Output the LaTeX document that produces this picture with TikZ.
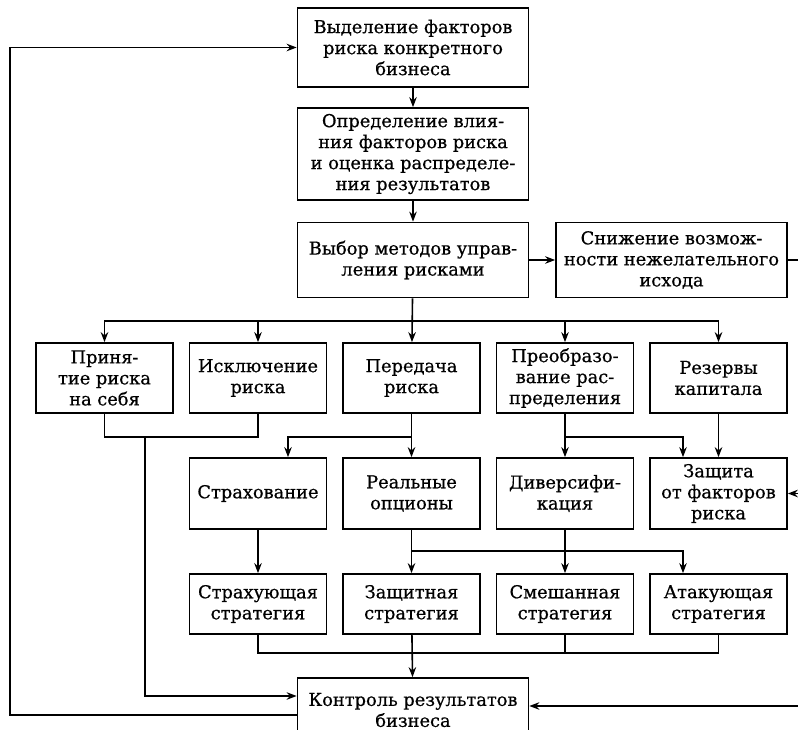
\documentclass[tikz,border=0pt]{standalone}
\usepackage{fontspec}
\setmainfont{DejaVu Serif}[FakeBold=0.6]
\usetikzlibrary{arrows.meta}
\begin{document}
\begin{tikzpicture}[x=1pt,y=-1pt,
  box/.style={draw, line width=1.7pt, align=center, inner sep=0pt,
    minimum width=137pt, font=\fontsize{17.8}{21}\selectfont},
  wbox/.style={box, minimum width=231pt},
  ln/.style={line width=1.6pt},
  arr/.style={ln, -{Stealth[length=10pt,width=7.5pt]}}]
\useasboundingbox (0,0) rectangle (798,730);
\clip (0,0) rectangle (798,730);
\fill[white] (0,0) rectangle (798,730);
% top column
\node[wbox, minimum height=79pt] (b1) at (413,47.5) {Выделение факторов\\риска конкретного\\бизнеса};
\node[wbox, minimum height=92pt] (b2) at (413,154) {Определение влия-\\ния факторов риска\\и оценка распределе-\\ния результатов};
\node[wbox, minimum height=75pt] (b3) at (413,260) {Выбор методов управ-\\ления рисками};
\node[wbox, minimum height=75pt] (sn) at (671.5,260) {Снижение возмож-\\ности нежелательного\\исхода};
% row 4
\node[box, minimum height=70pt] (r1) at (104.5,378) {Приня-\\тие риска\\на себя};
\node[box, minimum height=70pt] (r2) at (258,378) {Исключение\\риска};
\node[box, minimum height=70pt] (r3) at (411.5,378) {Передача\\риска};
\node[box, minimum height=70pt] (r4) at (565,378) {Преобразо-\\вание рас-\\пределения};
\node[box, minimum height=70pt] (r5) at (718.5,378) {Резервы\\капитала};
% row 5
\node[box, minimum height=71pt] (s1) at (258,493.5) {Страхование};
\node[box, minimum height=71pt] (s2) at (411.5,493.5) {Реальные\\опционы};
\node[box, minimum height=71pt] (s3) at (565,493.5) {Диверсифи-\\кация};
\node[box, minimum height=71pt] (s4) at (718.5,493.5) {Защита\\от факторов\\риска};
% row 6
\node[box, minimum height=60pt] (t1) at (258,604) {Страхующая\\стратегия};
\node[box, minimum height=60pt] (t2) at (411.5,604) {Защитная\\стратегия};
\node[box, minimum height=60pt] (t3) at (565,604) {Смешанная\\стратегия};
\node[box, minimum height=60pt] (t4) at (718.5,604) {Атакующая\\стратегия};
% control
\node[wbox, minimum height=64pt] (k) at (413,710) {Контроль результатов\\бизнеса};
% helper coordinates
\coordinate (bus) at (0,321);
\coordinate (j1) at (0,437);
\coordinate (j2) at (0,551);
\coordinate (j3) at (0,653);
\coordinate (xa) at (288,0);
\coordinate (xb) at (683,0);
\coordinate (xc) at (145,0);
\coordinate (xl) at (10,0);
\coordinate (kin) at (0,696);
\coordinate (kout) at (0,715);
\coordinate (kr) at (0,706);
\coordinate (edge) at (805,0);
% connectors
\draw[arr] (b1) -- (b2);
\draw[arr] (b2) -- (b3);
\draw[arr] (b3) -- (sn);
\draw[ln] (sn.east) -- (edge|-sn.east);
\draw[arr] (b3) -- (r3);
\draw[arr] (b3.south|-bus) -| (r1.north);
\draw[arr] (b3.south|-bus) -| (r2.north);
\draw[arr] (b3.south|-bus) -| (r4.north);
\draw[arr] (b3.south|-bus) -| (r5.north);
\draw[ln] (r1.south) |- (xc|-j1) -| (r2.south);
\draw[arr] (xc|-j1) |- (k.west|-kin);
\draw[arr] (r3) -- (s2);
\draw[arr] (r3.south|-j1) -| (xa|-s1.north);
\draw[arr] (r4) -- (s3);
\draw[arr] (r4.south|-j1) -| (xb|-s4.north);
\draw[arr] (r5) -- (s4);
\draw[arr] (edge|-s4.east) -- (s4.east);
\draw[arr] (s1) -- (t1);
\draw[arr] (s2) -- (t2);
\draw[arr] (s2.south|-j2) -| (xb|-t4.north);
\draw[arr] (s3) -- (t3);
\draw[ln] (t1.south) |- (t2.south|-j3) -| (t4.south);
\draw[ln] (t3.south) -- (t3.south|-j3);
\draw[arr] (t2) -- (k);
\draw[arr] (edge|-kr) -- (k.east|-kr);
\draw[arr] (k.west|-kout) -| (xl|-b1.west) -- (b1.west);
\end{tikzpicture}
\end{document}
